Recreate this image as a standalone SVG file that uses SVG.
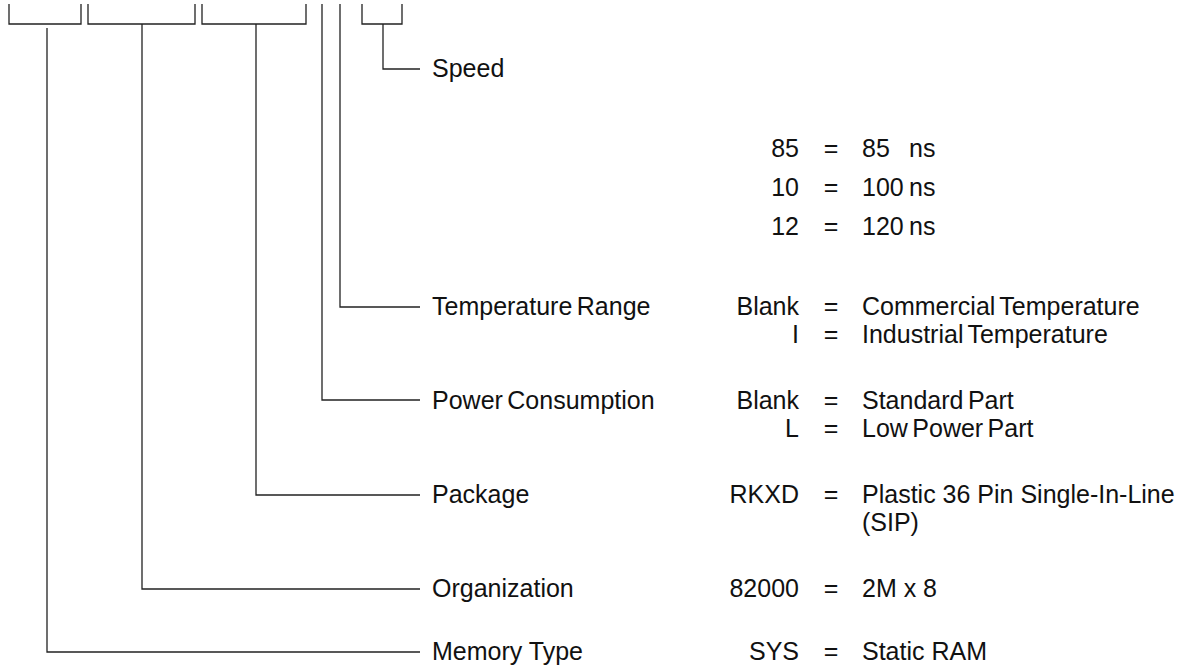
<svg xmlns="http://www.w3.org/2000/svg" width="1201" height="666" viewBox="0 0 1201 666">
<style>
  .ln { fill: none; stroke: #222; stroke-width: 1.3; }
  text { font-family: "Liberation Sans", Arial, sans-serif; font-size: 25px; fill: #111; }
  .code { text-anchor: end; }
  .eq { text-anchor: middle; }
  .tight { word-spacing: -2.5px; }
</style>
<rect width="1201" height="666" fill="#fff"/>
<g id="connectors">
  <path class="ln" d="M9,4 V24 H81 V4"/>
  <path class="ln" d="M88,4 V24 H195 V4"/>
  <path class="ln" d="M202,4 V24 H306 V4"/>
  <path class="ln" d="M362,4 V24 H402 V4"/>
  <path class="ln" d="M383,24 V69 H420"/>
  <path class="ln" d="M340,4 V307 H420"/>
  <path class="ln" d="M322,4 V400 H420"/>
  <path class="ln" d="M256,24 V495 H420"/>
  <path class="ln" d="M142,24 V589 H420"/>
  <path class="ln" d="M47,28 V652 H420"/>
</g>
<g id="speed">
  <text x="432" y="77">Speed</text>
  <text class="code" x="799" y="157">85</text><text class="eq" x="831" y="157">=</text><text x="862" y="157">85</text><text x="909" y="157">ns</text>
  <text class="code" x="799" y="196">10</text><text class="eq" x="831" y="196">=</text><text x="862" y="196">100</text><text x="909" y="196">ns</text>
  <text class="code" x="799" y="235">12</text><text class="eq" x="831" y="235">=</text><text x="862" y="235">120</text><text x="909" y="235">ns</text>
</g>
<g id="temperature">
  <text class="tight" x="432" y="315">Temperature Range</text>
  <text class="code" x="799" y="315">Blank</text><text class="eq" x="831" y="315">=</text><text class="tight" x="862" y="315">Commercial Temperature</text>
  <text class="code" x="799" y="343">I</text><text class="eq" x="831" y="343">=</text><text class="tight" x="862" y="343">Industrial Temperature</text>
</g>
<g id="power">
  <text class="tight" x="432" y="409">Power Consumption</text>
  <text class="code" x="799" y="409">Blank</text><text class="eq" x="831" y="409">=</text><text class="tight" x="862" y="409">Standard Part</text>
  <text class="code" x="799" y="437">L</text><text class="eq" x="831" y="437">=</text><text class="tight" x="862" y="437">Low Power Part</text>
</g>
<g id="package">
  <text x="432" y="503">Package</text>
  <text class="code" x="799" y="503">RKXD</text><text class="eq" x="831" y="503">=</text><text x="862" y="503">Plastic 36 Pin Single-In-Line</text>
  <text x="862" y="531">(SIP)</text>
</g>
<g id="organization">
  <text x="432" y="597">Organization</text>
  <text class="code" x="799" y="597">82000</text><text class="eq" x="831" y="597">=</text><text x="862" y="597">2M x 8</text>
</g>
<g id="memory-type">
  <text x="432" y="660">Memory Type</text>
  <text class="code" x="799" y="660">SYS</text><text class="eq" x="831" y="660">=</text><text x="862" y="660">Static RAM</text>
</g>
</svg>
